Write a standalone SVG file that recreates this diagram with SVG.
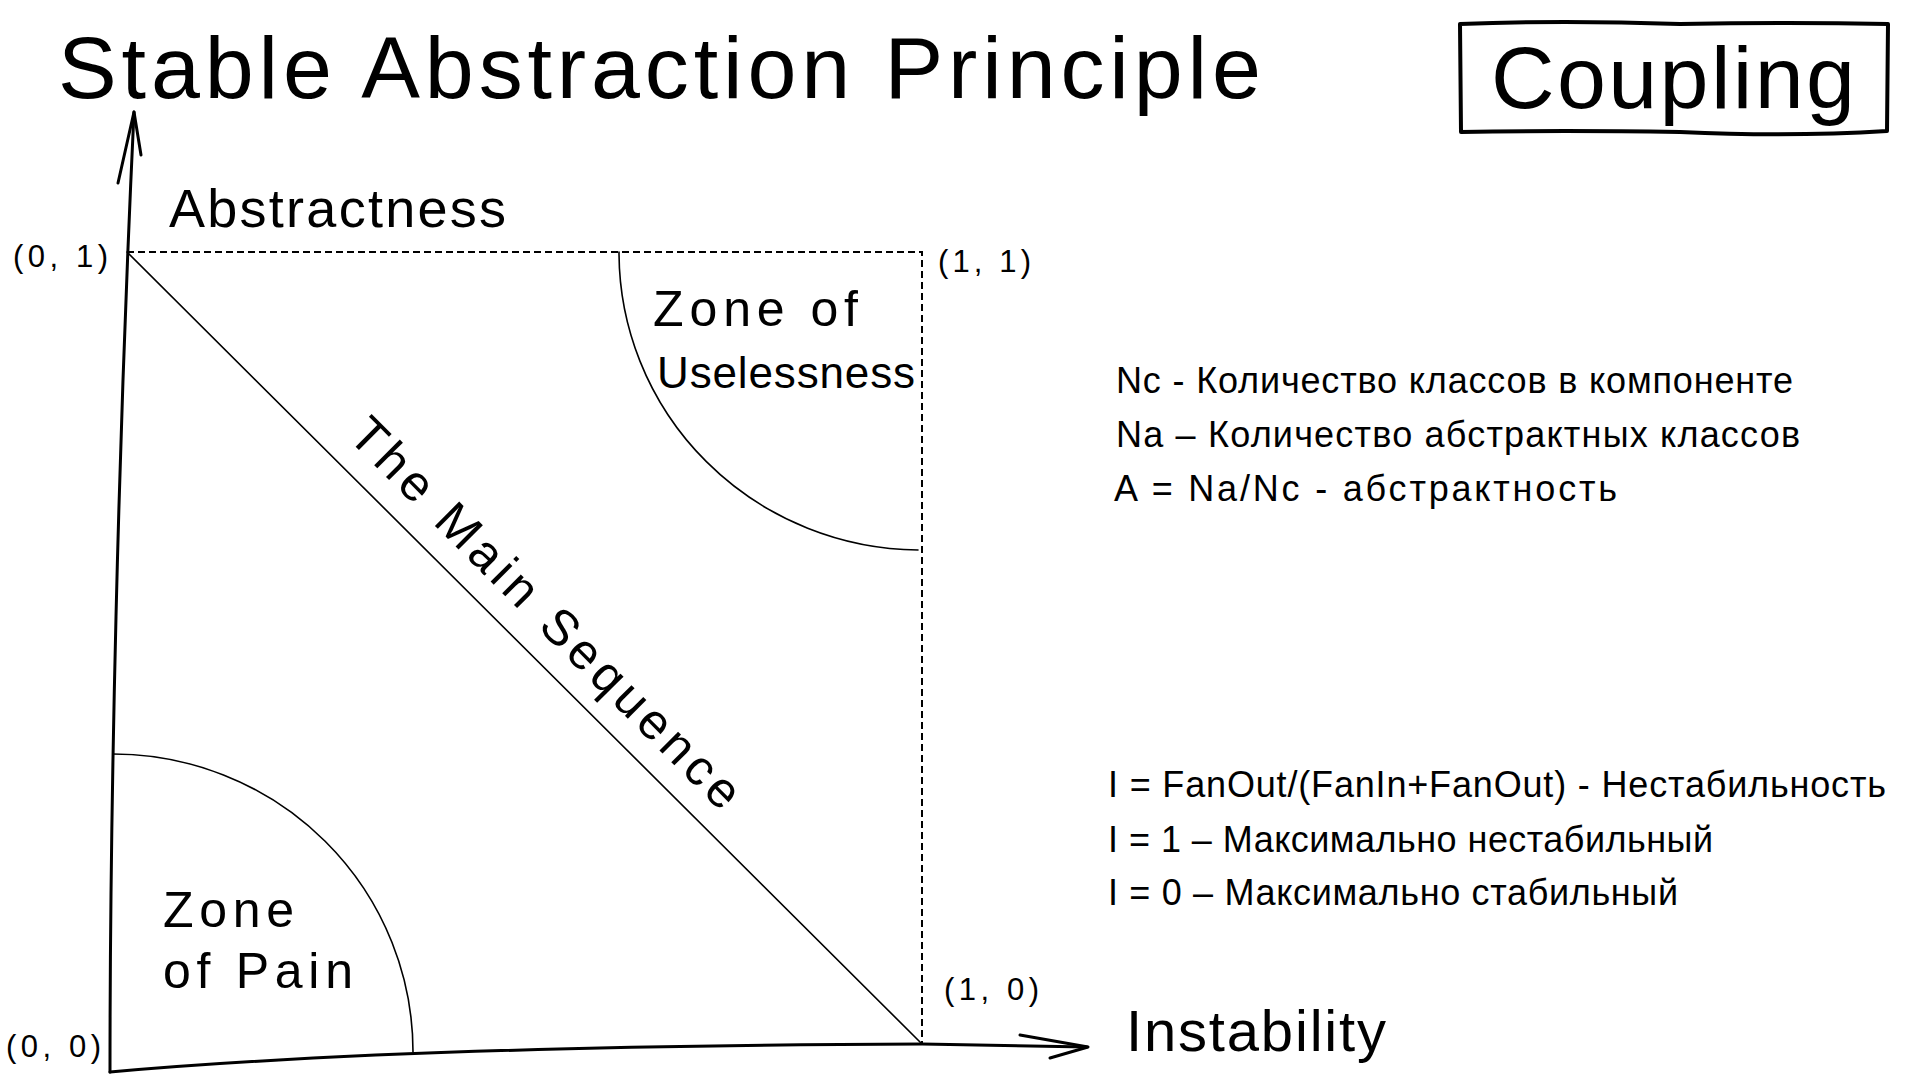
<svg xmlns="http://www.w3.org/2000/svg" width="1920" height="1080" viewBox="0 0 1920 1080">
<style>
  text { font-family: "Liberation Sans", "Noto Sans", sans-serif; fill: #000; }
  .title { font-size: 88px; }
  .axisLabel { font-size: 54px; }
  .zone { font-size: 50px; }
  .coord { font-size: 31px; }
  .note { font-size: 36px; }
  .axis { fill: none; stroke: #000; stroke-width: 3; stroke-linecap: round; stroke-linejoin: round; }
  .thin { fill: none; stroke: #000; stroke-width: 1.6; stroke-linecap: round; }
  .dash { fill: none; stroke: #000; stroke-width: 2; stroke-dasharray: 7 4; }
  .box { fill: none; stroke: #000; stroke-width: 4; stroke-linejoin: round; }
</style>
<rect width="1920" height="1080" fill="#fff"/>

<g id="title">
  <text class="title" x="58" y="98" textLength="1203">Stable Abstraction Principle</text>
</g>

<g id="coupling">
  <path class="box" d="M1460,24 Q1560,20 1680,24 Q1790,22 1888,24 L1887,131 Q1790,137 1680,132 Q1560,130 1461,132 Z"/>
  <text class="title" x="1491" y="108" textLength="364">Coupling</text>
</g>

<g id="connectors">
  <path class="axis" d="M110,1072 C110,800 118,450 134,112"/>
  <path class="axis" d="M118,183 L134,112 L141,155"/>
  <path class="axis" d="M110,1072 Q400,1046 922,1044 L1087,1047"/>
  <path class="axis" d="M1020,1035 L1088,1047 L1050,1058"/>
  <path class="dash" d="M127,252 L922,252 L922,1044"/>
  <path class="thin" d="M127,252 L922,1044"/>
  <path class="thin" d="M619,252 A302 298 0 0 0 918,550"/>
  <path class="thin" d="M113,754 A300 298 0 0 1 413,1052"/>
</g>

<g id="axis-abstractness">
  <text class="axisLabel" x="169" y="227" textLength="337">Abstractness</text>
</g>
<g id="axis-instability">
  <text class="axisLabel" x="1126" y="1051" style="font-size:58px" textLength="260">Instability</text>
</g>

<g id="coord-0-1"><text class="coord" x="13" y="267" textLength="95">(0, 1)</text></g>
<g id="coord-1-1"><text class="coord" x="938" y="272" textLength="93">(1, 1)</text></g>
<g id="coord-0-0"><text class="coord" x="6" y="1057" textLength="95">(0, 0)</text></g>
<g id="coord-1-0"><text class="coord" x="944" y="1000" textLength="95">(1, 0)</text></g>

<g id="zone-uselessness">
  <text class="zone" x="653" y="326" textLength="205">Zone of</text>
  <text class="zone" x="657" y="388" style="font-size:44px" textLength="258">Uselessness</text>
</g>

<g id="zone-pain">
  <text class="zone" x="163" y="927" textLength="131">Zone</text>
  <text class="zone" x="163" y="988" textLength="190">of Pain</text>
</g>

<g id="main-sequence">
  <text class="zone" transform="translate(534,625) rotate(45)" x="0" y="0" text-anchor="middle" textLength="530">The Main Sequence</text>
</g>

<g id="abstractness-notes">
  <text class="note" x="1116" y="393" textLength="677">Nc - Количество классов в компоненте</text>
  <text class="note" x="1116" y="447" textLength="684">Na – Количество абстрактных классов</text>
  <text class="note" x="1114" y="501" textLength="503">A = Na/Nc - абстрактность</text>
</g>

<g id="instability-notes">
  <text class="note" x="1108" y="797" textLength="778">I = FanOut/(FanIn+FanOut) - Нестабильность</text>
  <text class="note" x="1108" y="852" textLength="605">I = 1 – Максимально нестабильный</text>
  <text class="note" x="1108" y="905" textLength="570">I = 0 – Максимально стабильный</text>
</g>
</svg>
